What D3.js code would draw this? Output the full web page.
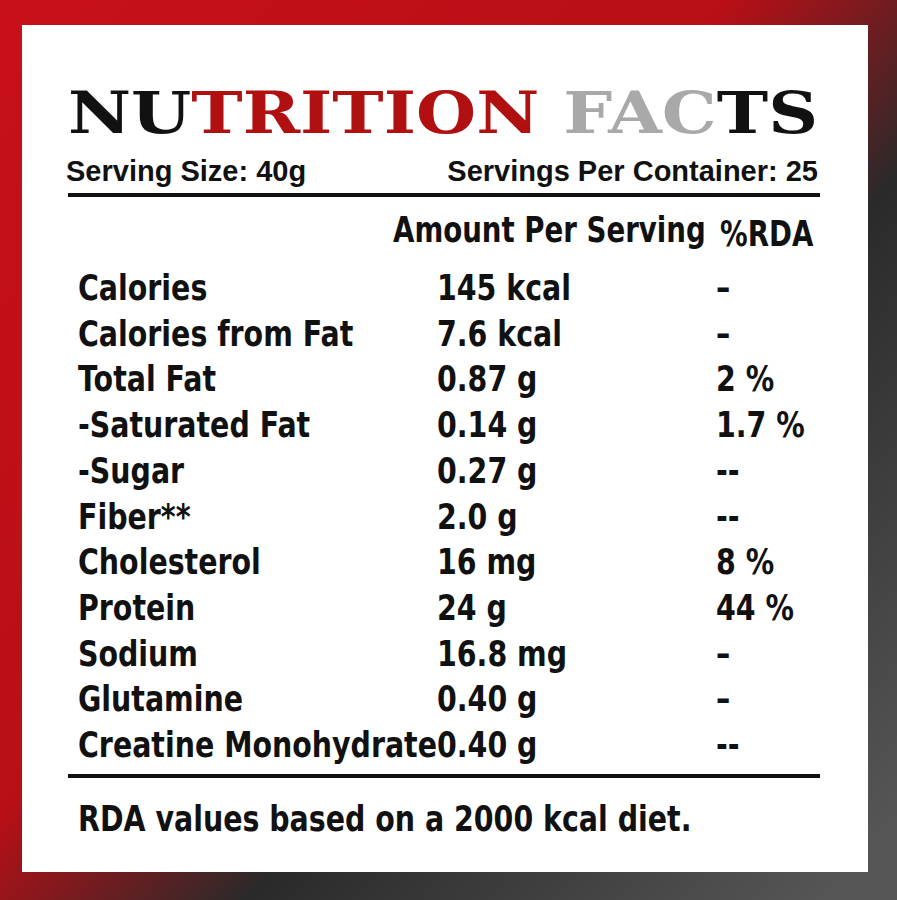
<!DOCTYPE html>
<html><head><meta charset="utf-8">
<script src="https://cdn.jsdelivr.net/npm/d3@7"></script>
<style>body{margin:0;background:#222}</style>
</head><body>
<svg id="chart" width="897" height="900"></svg>
<script>
// label data
const nutrients = ["Calories","Calories from Fat","Total Fat","-Saturated Fat","-Sugar","Fiber**","Cholesterol","Protein","Sodium","Glutamine","Creatine Monohydrate"];
const amounts   = ["145 kcal","7.6 kcal","0.87 g","0.14 g","0.27 g","2.0 g","16 mg","24 g","16.8 mg","0.40 g","0.40 g"];
const rdas      = ["–","–","2 %","1.7 %","--","--","8 %","44 %","–","–","--"];
const titleParts = [["NU","#111"],["TRITION ","#b01010"],["FAC","#a9a9a9"],["TS","#111"]];

const svg = d3.select("#chart");
const defs = svg.append("defs");
const g1 = defs.append("linearGradient").attr("id","bg").attr("x1","0").attr("y1","0").attr("x2","1").attr("y2","0.9");
g1.append("stop").attr("offset","0%").attr("stop-color","#c8101a");
g1.append("stop").attr("offset","45%").attr("stop-color","#b80f16");
g1.append("stop").attr("offset","65%").attr("stop-color","#2a2a2a");
g1.append("stop").attr("offset","100%").attr("stop-color","#555");
svg.append("rect").attr("width",897).attr("height",900).attr("fill","url(#bg)");
svg.append("rect").attr("x",22).attr("y",25).attr("width",846).attr("height",847).attr("fill","#fff");

const cond = "'DejaVu Sans',sans-serif";
const sx = 0.79;

const title = svg.append("text").attr("x",68).attr("y",133)
  .attr("font-family","'DejaVu Serif','Liberation Serif',serif").attr("font-weight","900")
  .attr("font-size",58).attr("textLength",750).attr("lengthAdjust","spacingAndGlyphs");
titleParts.forEach(([t,c]) => title.append("tspan").attr("fill",c).text(t));

svg.append("text").attr("x",66).attr("y",181).attr("font-family","'Liberation Sans',Arial,sans-serif")
  .attr("font-weight","bold").attr("font-size",29).attr("fill","#111").text("Serving Size: 40g");
svg.append("text").attr("x",818).attr("y",181).attr("text-anchor","end").attr("font-family","'Liberation Sans',Arial,sans-serif")
  .attr("font-weight","bold").attr("font-size",29).attr("fill","#111").text("Servings Per Container: 25");

svg.append("rect").attr("x",68).attr("y",193).attr("width",752).attr("height",4).attr("fill","#111");
svg.append("rect").attr("x",68).attr("y",774).attr("width",752).attr("height",4).attr("fill","#111");

function condText(sel, x, yy, txt, size) {
  return sel.append("text").attr("transform",`translate(${x},${yy}) scale(${sx},1)`)
    .attr("font-family",cond).attr("font-weight","bold").attr("font-size",size).attr("fill","#111").text(txt);
}
condText(svg, 393, 242, "Amount Per Serving", 35);
condText(svg, 720, 246, "%RDA", 35);

const y = d3.scaleBand().domain(nutrients).range([265, 768]);
const rows = svg.append("g").selectAll("g").data(nutrients).join("g")
  .attr("transform",d => `translate(0,${y(d) + y.bandwidth()/2 + 12})`);
rows.each(function(d,i) {
  const r = d3.select(this);
  condText(r, 78, 0, d, 36);
  condText(r, 437, 0, amounts[i], 36);
  condText(r, 716, 0, rdas[i], 36);
});

condText(svg, 78, 831, "RDA values based on a 2000 kcal diet.", 36);
</script>
</body></html>
